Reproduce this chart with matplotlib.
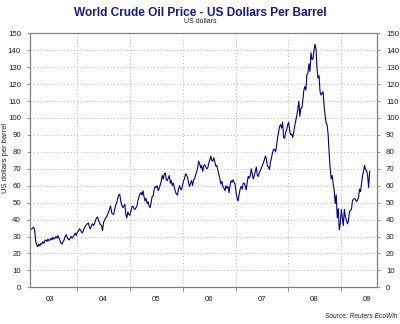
import matplotlib
matplotlib.use("Agg")
import matplotlib.pyplot as plt
import numpy as np
import pandas as pd

plt.rcParams['font.family'] = ['Liberation Sans', 'DejaVu Sans']

# Weekly (Friday) crude oil prices, US$ per barrel
price_2003 = [33.5, 34, 34.5, 35,
              35.5, 33, 27, 25,
              24, 25.5, 24.5, 26,
              25.5, 27, 26, 27.5, 28,
              27, 28.5, 27.5, 28,
              29, 28, 29.5, 28.5,
              29, 30, 29, 30.5, 29,
              27.5, 26, 25.5, 27,
              28, 30, 31, 29.5, 28.5,
              28, 29, 30, 29,
              30, 31, 32, 30.5]
price_2004 = [32.5, 33, 34.5, 34, 33,
              32, 33.5, 35, 36,
              37, 37.5, 38, 35.5,
              34.5, 36.5, 37.5, 36.5, 37.5,
              39.5, 41, 41.5, 39.5,
              38, 37, 36.5, 33.5,
              38.5, 39.5, 41, 41.5, 43,
              44.5, 46.5, 48, 44,
              43.5, 43, 46, 48.5,
              50, 52.5, 54.5, 55, 51,
              48.5, 47, 48, 49,
              43, 41, 44.5, 43, 42.5]
price_2005 = [45, 47.5, 48, 46.5,
              46, 47, 48, 51.5,
              53.5, 55, 56, 54.5,
              57, 53.5, 51, 52.5, 49.5,
              50.5, 48, 47, 50,
              53.5, 54, 57.5, 59.5,
              59, 60, 57, 58.5, 60.5,
              62.5, 66, 64, 67,
              67.5, 63.5, 63, 64.5, 66,
              61.5, 63, 60, 61.5,
              59, 56.5, 55, 54.5,
              57.5, 60, 58.5, 57.5, 60]
price_2006 = [63, 64, 67, 66.5,
              65, 62, 59.5, 61.5,
              63, 60, 63.5, 64, 66.5,
              68, 70.5, 74.5, 73,
              70.5, 72, 68.5, 71.5,
              72.5, 71, 70, 70.5, 73.5,
              75, 77.5, 75, 74.5,
              76.5, 74, 71.5, 72,
              69, 66.5, 64, 61, 62.5,
              59.5, 58.5, 57, 60,
              58.5, 59.5, 56, 60,
              63, 62, 63.5, 62, 61]
price_2007 = [56, 52.5, 51, 55,
              58, 59.5, 58, 61.5,
              61.5, 60, 57.5, 62, 65.5,
              64.5, 66, 70, 67,
              64, 66, 68.5, 71,
              66, 65.5, 68, 69, 70.5,
              72, 73.5, 75.5, 77.5,
              75.5, 71.5, 71, 69.5, 74,
              76.5, 79.5, 81.5, 81.5,
              80, 83.5, 88.5, 91.5,
              95, 96, 94, 97.5, 88.5,
              88, 91.5, 93, 96]
price_2008 = [97.5, 92.5, 90, 90.5,
              88.5, 91.5, 95.5, 98.5, 101.5,
              105, 110, 101, 105.5,
              106, 110.5, 116.5, 118.5,
              116.5, 125.5, 126.5, 132, 127.5,
              138.5, 134.5, 135, 140,
              143.5, 140.5, 129, 123.5,
              125, 115.5, 113.5, 114.5, 115.5,
              107, 101.5, 97, 96,
              90, 79, 70, 64, 66,
              61, 57, 49.5, 54.5,
              41, 46.5, 33.9, 37.5]
price_2009 = [46, 41, 36.5, 46, 41.5,
              40, 37.5, 39, 44.5,
              45.5, 46, 51, 52,
              52.5, 52, 50.5, 51.5,
              53, 58, 56.5, 61.5, 66,
              68.5, 72, 69.5, 69,
              66, 59, 68.5]

prices = np.concatenate([price_2003, price_2004, price_2005, price_2006,
                         price_2007, price_2008, price_2009])
dates = pd.date_range('2003-02-07', periods=len(prices), freq='W-FRI')

year_labels = ['03', '04', '05', '06', '07', '08', '09']
y_ticks = list(range(0, 151, 10))

navy = '#000080'
spine_col = '#808080'
text_col = '#222222'

fig = plt.figure(figsize=(4.0, 3.24), dpi=100)
ax = fig.add_axes([30 / 400, 1 - 287.3 / 324, 347 / 400, 254 / 324])

ax.plot(dates, prices, color=navy, lw=0.8, solid_joinstyle='round')

ax.set_xlim(pd.Timestamp('2003-02-09'), pd.Timestamp('2009-09-06'))
ax.set_ylim(0, 150)

# year boundaries: ticks + dotted grid, labels at mid-year
boundaries = [pd.Timestamp(f'{y}-01-01') for y in range(2004, 2010)]
mids = [pd.Timestamp(f'{y}-07-01') for y in range(2003, 2010)]
ax.set_xticks(boundaries)
ax.set_xticklabels([])
ax.set_xticks(mids, minor=True)
ax.set_xticklabels(year_labels, minor=True)
ax.tick_params(axis='x', which='major', length=3, width=0.6, color=spine_col, direction='out')
ax.tick_params(axis='x', which='minor', length=0, labelsize=5.7, pad=6, labelcolor=text_col)

ax.set_yticks(y_ticks)
ax.tick_params(axis='y', which='both', length=2.5, width=0.6, color=spine_col,
               labelsize=5.7, labelcolor=text_col, left=True, right=True,
               labelleft=True, labelright=True, pad=4)

ax.grid(True, which='major', axis='both', color='#bdbdbd', lw=0.6, ls=(0, (1.5, 2.5)))
ax.set_axisbelow(True)

for s in ax.spines.values():
    s.set_color(spine_col)
    s.set_linewidth(0.9)

fig.text(5.5 / 400, 1 - 158 / 324, 'US dollars per barrel', rotation=90,
         ha='center', va='center', fontsize=5.5, color=text_col)

fig.text(0.5, 1 - 13 / 324, 'World Crude Oil Price - US Dollars Per Barrel',
         ha='center', va='center', fontsize=8.6, fontweight='bold', color='#1a1a7a')
fig.text(0.5, 1 - 21.5 / 324, 'US dollars', ha='center', va='center',
         fontsize=5, color=text_col)
fig.text(397 / 400, 1 - 316 / 324, 'Source: Reuters EcoWin', ha='right', va='center',
         fontsize=4.8, style='italic', color=text_col)

fig.savefig('out.png', dpi=100)
